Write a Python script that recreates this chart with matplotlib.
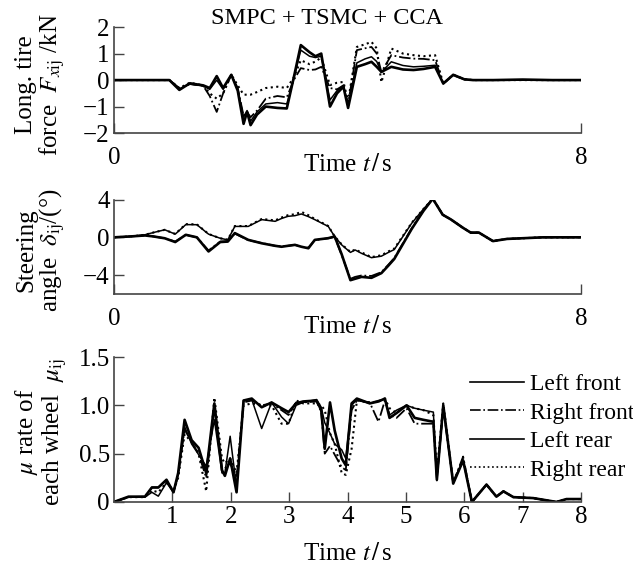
import matplotlib
matplotlib.use('Agg')
import matplotlib.pyplot as plt

plt.rcParams['font.family'] = ['Liberation Serif', 'DejaVu Serif']
plt.rcParams['mathtext.fontset'] = 'stix'
plt.rcParams['font.size'] = 17

labels = ['Left front', 'Right front', 'Left rear', 'Right rear']

# longitudinal tire force (kN)
t_force = [0, 0.95, 1.12, 1.3, 1.53, 1.64, 1.76, 1.87, 2.01, 2.12, 2.22, 2.28, 2.34, 2.45, 2.6, 2.8,
           2.96, 3.08, 3.2, 3.35, 3.45, 3.55, 3.7, 3.82, 3.93, 4.01, 4.16, 4.3, 4.41, 4.5, 4.58, 4.75,
           4.95, 5.13, 5.3, 5.5, 5.64, 5.81, 6.0, 6.15, 6.5, 7.0, 7.5, 8.0]
force_lf = [0, 0, -0.37, -0.12, -0.2, -0.3, 0.15, -0.3, 0.2, -0.4, -1.65, -1.2, -1.7, -1.3, -1.0, -1.05,
            -1.07, 0.1, 1.32, 1.05, 0.9, 1.0, -1.0, -0.5, -0.25, -1.05, 0.5, 0.6, 0.69, 0.5, 0.31, 0.5,
            0.4, 0.38, 0.42, 0.5, -0.13, 0.2, 0.03, 0.0, 0.0, 0.02, 0.0, 0.0]
force_rf = [0, 0, -0.3, -0.15, -0.22, -0.6, -1.2, -0.5, 0.2, -0.3, -1.35, -1.2, -1.4, -1.15, -0.7, -0.6,
            -0.65, 0.0, 0.45, 0.38, 0.4, 0.5, -0.3, -0.35, -0.2, -0.9, 1.13, 1.2, 1.25, 1.0, 0.3, 0.94,
            0.85, 0.81, 0.8, 0.75, -0.13, 0.18, 0.03, 0, 0, 0, 0, 0]
force_lr = [0, 0, -0.33, -0.15, -0.22, -0.35, 0.0, -0.35, 0.2, -0.35, -1.4, -1.15, -1.55, -1.2, -0.9, -0.85,
            -0.9, 0.05, 1.13, 0.9, 0.85, 0.9, -0.75, -0.4, -0.2, -0.95, 0.65, 0.8, 0.88, 0.7, 0.3, 0.69,
            0.55, 0.5, 0.52, 0.56, -0.13, 0.2, 0.03, 0, 0, 0, 0, 0]
force_rr = [0, 0, -0.3, -0.1, -0.2, -0.5, -0.7, -0.5, 0.2, -0.2, -0.55, -0.55, -0.55, -0.45, -0.3, -0.25,
            -0.3, 0.1, 0.75, 0.6, 0.7, 0.85, -0.19, -0.1, -0.07, -0.8, 1.25, 1.35, 1.44, 1.2, -0.08, 1.19,
            1.0, 0.94, 0.9, 0.94, -0.13, 0.2, 0.03, 0, 0, 0, 0, 0]

# steering angle (deg)
t_steer = [0, 0.3, 0.53, 0.67, 0.87, 1.05, 1.23, 1.42, 1.62, 1.82, 1.95, 2.07, 2.3, 2.53, 2.76, 2.87,
           2.98, 3.1, 3.21, 3.33, 3.44, 3.67, 3.78, 3.9, 4.05, 4.13, 4.24, 4.41, 4.58, 4.7, 4.8, 5.1,
           5.3, 5.46, 5.63, 5.77, 5.98, 6.11, 6.25, 6.49, 6.73, 7.35, 8.0]
steer_lf = [0, 0.1, 0.2, 0.1, -0.1, -0.5, 0.27, 0.0, -1.5, -0.5, -0.45, 0.45, -0.27, -0.63, -0.9, -1.0,
            -0.9, -0.8, -1.0, -1.16, -0.27, -0.09, 0.09, -1.8, -4.55, -4.4, -4.2, -4.3, -3.8, -3.0, -2.3, 0.9,
            2.8, 4.1, 2.4, 1.9, 1.0, 0.5, 0.5, -0.4, -0.17, 0.0, 0.0]
steer_rf = [0, 0.1, 0.2, 0.1, -0.1, -0.45, 0.25, 0.0, -1.4, -0.45, -0.4, 0.4, -0.3, -0.6, -0.9, -0.95,
            -0.9, -0.8, -1.0, -1.1, -0.3, -0.1, 0.05, -1.9, -4.4, -4.2, -4.05, -4.1, -3.7, -2.9, -2.2, 0.95,
            2.85, 4.1, 2.4, 1.9, 1.0, 0.5, 0.5, -0.4, -0.17, 0.0, 0.0]
steer_lr = [0, 0.1, 0.27, 0.5, 0.8, 0.34, 1.35, 1.34, 0.34, -0.1, -0.27, 1.16, 1.16, 1.88, 1.7, 2.0,
            2.23, 2.3, 2.48, 2.2, 1.88, 1.16, 0.09, -0.8, -1.6, -1.34, -1.7, -2.16, -2.0, -1.6, -1.3, 1.5,
            3.0, 4.1, 2.4, 1.9, 1.0, 0.5, 0.5, -0.4, -0.17, 0.0, 0.0]
steer_rr = [0, 0.1, 0.27, 0.5, 0.8, 0.36, 1.4, 1.38, 0.36, -0.1, -0.25, 1.2, 1.2, 1.95, 1.8, 2.1,
            2.35, 2.45, 2.7, 2.35, 1.95, 1.2, 0.1, -0.75, -1.55, -1.3, -1.6, -2.1, -1.9, -1.5, -1.2, 1.55,
            3.0, 4.1, 2.4, 1.9, 1.0, 0.5, 0.5, -0.4, -0.17, 0.0, 0.0]

# friction utilisation of each wheel
t_mu = [0, 0.25, 0.53, 0.65, 0.76, 0.9, 1.02, 1.1, 1.21, 1.33, 1.45, 1.58, 1.72, 1.85, 1.9, 1.99,
        2.1, 2.22, 2.36, 2.53, 2.7, 2.87, 2.99, 3.12, 3.24, 3.47, 3.55, 3.61, 3.7, 3.78, 3.9, 3.97,
        4.07, 4.16, 4.38, 4.53, 4.64, 4.72, 4.84, 5.01, 5.15, 5.3, 5.47, 5.53, 5.64, 5.81, 5.98, 6.13,
        6.38, 6.55, 6.67, 6.84, 7.18, 7.58, 7.75, 8.0]
mu_lf = [0, 0.055, 0.055, 0.15, 0.15, 0.23, 0.1, 0.3, 0.85, 0.64, 0.56, 0.3, 1.02, 0.33, 0.27, 0.45,
         0.1, 1.05, 1.07, 0.98, 1.03, 0.97, 0.93, 1.02, 1.04, 1.05, 0.95, 0.55, 1.03, 0.74, 0.45, 0.38,
         1.02, 1.07, 1.02, 1.04, 1.07, 0.87, 0.92, 1.0, 0.87, 0.85, 0.83, 0.23, 1.0, 0.19, 0.43, 0.0,
         0.18, 0.055, 0.11, 0.05, 0.04, 0.0, 0.03, 0.03]
mu_rf = [0, 0.05, 0.055, 0.15, 0.15, 0.22, 0.1, 0.28, 0.75, 0.62, 0.5, 0.25, 0.95, 0.35, 0.35, 0.4,
         0.25, 1.03, 1.05, 1.0, 1.02, 0.95, 0.9, 1.03, 1.03, 1.04, 0.93, 0.5, 0.58, 0.49, 0.36, 0.33,
         0.95, 1.05, 1.03, 0.83, 1.05, 0.9, 0.87, 0.97, 0.81, 0.81, 0.81, 0.25, 0.97, 0.2, 0.47, 0.0,
         0.18, 0.055, 0.11, 0.05, 0.04, 0.0, 0.03, 0.03]
mu_lr = [0, 0.05, 0.05, 0.1, 0.06, 0.2, 0.1, 0.28, 0.78, 0.6, 0.49, 0.37, 0.85, 0.3, 0.3, 0.68,
         0.15, 1.05, 1.06, 0.76, 1.03, 0.88, 0.81, 1.0, 1.03, 1.06, 0.98, 0.82, 0.71, 0.6, 0.54, 0.45,
         1.0, 1.06, 1.02, 1.05, 1.06, 0.9, 0.95, 1.0, 0.97, 0.95, 0.93, 0.22, 0.98, 0.2, 0.43, 0.0,
         0.18, 0.055, 0.11, 0.05, 0.04, 0.0, 0.03, 0.03]
mu_rr = [0, 0.05, 0.05, 0.12, 0.1, 0.2, 0.12, 0.25, 0.7, 0.62, 0.5, 0.11, 1.08, 0.45, 0.4, 0.45,
         0.3, 1.0, 1.02, 1.0, 1.0, 0.81, 0.81, 1.05, 1.02, 1.02, 1.0, 0.95, 0.71, 0.6, 0.3, 0.28,
         0.55, 1.05, 1.03, 1.04, 1.07, 0.97, 0.92, 1.0, 0.97, 0.95, 0.9, 0.3, 1.02, 0.2, 0.45, 0.0,
         0.18, 0.055, 0.11, 0.05, 0.04, 0.0, 0.03, 0.03]

styles = [dict(color='black', lw=1.9, ls='-'),
          dict(color='black', lw=1.3, ls='-.'),
          dict(color='black', lw=1.1, ls='-'),
          dict(color='black', lw=1.5, ls=':')]


def style_axes(ax, pad):
    ax.spines['top'].set_visible(False)
    ax.spines['right'].set_visible(False)
    for s in ('left', 'bottom'):
        ax.spines[s].set_color('#444444')
        ax.spines[s].set_linewidth(1.2)
    ax.tick_params(direction='in', length=7, width=1.0, color='#444444', labelsize=18)
    ax.tick_params(axis='y', pad=3)
    ax.tick_params(axis='x', pad=pad)
    ax.set_xlim(0, 8)


fig = plt.figure(figsize=(6.33, 5.64), dpi=100)
ax1 = fig.add_axes([0.180, 0.764, 0.738, 0.188])
ax2 = fig.add_axes([0.180, 0.479, 0.738, 0.167])
ax3 = fig.add_axes([0.180, 0.110, 0.738, 0.257])

# top: force
for y, st in zip([force_lf, force_rf, force_lr, force_rr], styles):
    ax1.plot(t_force, y, **st)
style_axes(ax1, 10)
ax1.set_ylim(-2, 2)
ax1.set_yticks([-2, -1, 0, 1, 2])
ax1.set_xticks([0, 8])
ax1.set_xlabel('Time $t\\,/\\,$s', fontsize=18)
ax1.xaxis.set_label_coords(0.5, -0.2)

# middle: steering
for y, st in zip([steer_lf, steer_rf, steer_lr, steer_rr], styles):
    ax2.plot(t_steer, y, **st)
style_axes(ax2, 10)
ax2.set_ylim(-6, 4)
ax2.set_yticks([-4, 0, 4])
ax2.set_xticks([0, 8])
ax2.set_xlabel('Time $t\\,/\\,$s', fontsize=18)
ax2.xaxis.set_label_coords(0.5, -0.23)

# bottom: mu
for y, st, lab in zip([mu_lf, mu_rf, mu_lr, mu_rr], styles, labels):
    ax3.plot(t_mu, y, label=lab, **st)
style_axes(ax3, 3)
ax3.set_ylim(0, 1.5)
ax3.set_yticks([0, 0.5, 1.0, 1.5])
ax3.set_yticklabels(['0', '0.5', '1.0', '1.5'])
ax3.set_xticks(range(1, 9))
ax3.set_xlabel('Time $t\\,/\\,$s', fontsize=18)
ax3.xaxis.set_label_coords(0.5, -0.28)

leg_styles = [dict(color='black', lw=1.2, ls='-'),
              dict(color='black', lw=1.2, ls='-.'),
              dict(color='black', lw=1.2, ls='-'),
              dict(color='black', lw=1.2, ls=':')]
handles = [plt.Line2D([], [], **st) for st in leg_styles]
ax3.legend(handles, labels, loc='upper left', bbox_to_anchor=(0.7425, 0.338),
           bbox_transform=fig.transFigure, frameon=False, borderpad=0, borderaxespad=0,
           handlelength=2.3, handletextpad=0.25, labelspacing=0.3, fontsize=17)

fig.text(327 / 633, 1 - 18 / 564, 'SMPC + TSMC + CCA', ha='center', va='center', fontsize=17.5)
fig.text(41 / 633, 1 - 85 / 564, 'Long. tire\nforce  $F_{x\\mathrm{ij}}$ /kN', rotation=90,
         ha='center', va='center', fontsize=18, linespacing=1.05, multialignment='center')
fig.text(41 / 633, 1 - 250 / 564, 'Steering\nangle  $\\delta_{\\mathrm{ij}}$/(°)', rotation=90,
         ha='center', va='center', fontsize=18, linespacing=1.05, multialignment='center')
fig.text(41 / 633, 1 - 432 / 564, '$\\mu$ rate of\neach wheel  $\\mu_{\\mathrm{ij}}$', rotation=90,
         ha='center', va='center', fontsize=18, linespacing=1.05, multialignment='center')

fig.savefig('out.png', dpi=100)
